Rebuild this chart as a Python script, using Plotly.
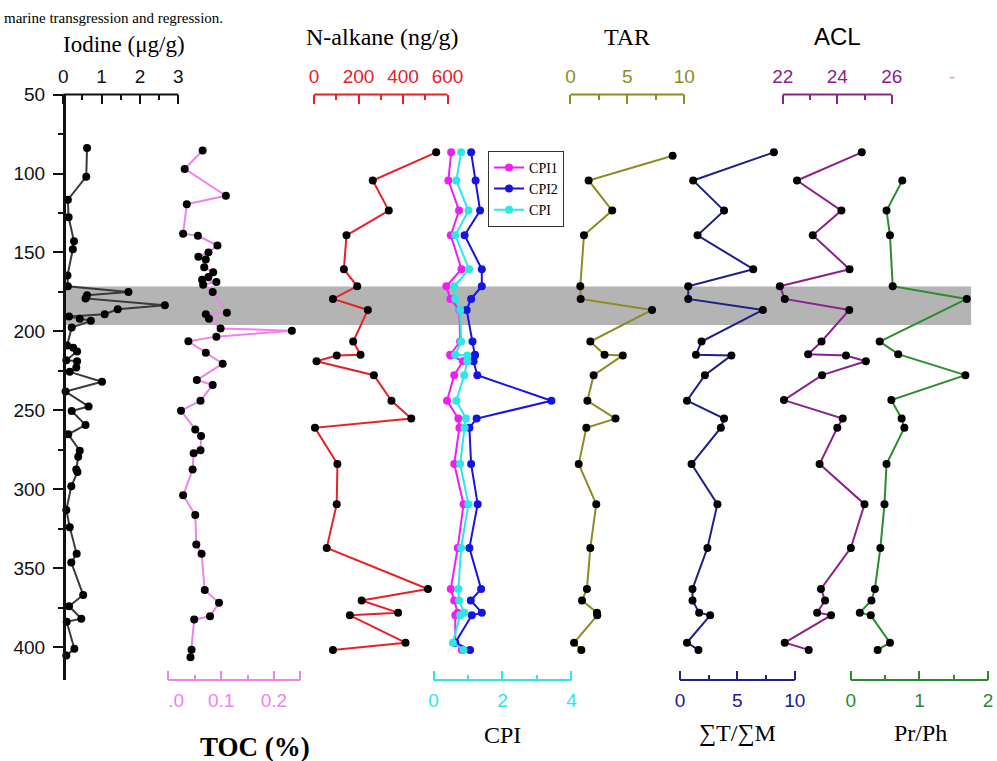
import plotly.graph_objects as go

W, H = 997, 761

# ---------------- data (depth in m, values per proxy) ----------------
iod_depth = [83.9, 102.0, 116.6, 127.7, 142.9, 147.9, 164.6, 171.4, 175.0, 177.1, 179.1, 183.5, 186.0,
             189.1, 190.6, 191.9, 193.3, 197.5, 208.9, 210.4, 212.7, 218.3, 218.9, 222.9, 225.6, 231.9,
             238.1, 247.5, 250.4, 259.2, 265.2, 275.6, 279.4, 287.5, 289.1, 298.1, 313.1, 324.1, 340.8,
             346.4, 366.9, 374.1, 381.9, 383.9, 401.0, 405.2]
iod_val = [0.62, 0.60, 0.12, 0.14, 0.28, 0.25, 0.11, 0.12, 1.70, 0.62, 0.58, 2.65, 1.42,
           1.08, 0.15, 0.43, 0.72, 0.22, 0.10, 0.26, 0.36, 0.08, 0.36, 0.34, 0.17, 1.01,
           0.06, 0.66, 0.22, 0.58, 0.13, 0.43, 0.39, 0.34, 0.37, 0.21, 0.08, 0.17, 0.35,
           0.21, 0.52, 0.15, 0.47, 0.09, 0.29, 0.08]

toc_depth = [85.4, 97.1, 114.1, 119.4, 138.1, 139.4, 145.6, 150.0, 152.7, 154.4, 159.4, 162.5, 165.6,
             167.3, 168.7, 170.4, 175.0, 188.1, 189.1, 191.9, 198.1, 199.5, 203.3, 206.2, 213.5, 220.4,
             230.8, 233.9, 243.9, 250.2, 262.1, 266.2, 275.2, 277.1, 287.5, 303.8, 316.3, 335.0, 340.8,
             363.8, 371.9, 380.4, 382.5, 401.6, 406.4]
toc_val = [0.065, 0.031, 0.109, 0.035, 0.028, 0.056, 0.093, 0.076, 0.057, 0.071, 0.068, 0.085, 0.076,
           0.064, 0.091, 0.066, 0.084, 0.111, 0.071, 0.077, 0.099, 0.234, 0.091, 0.038, 0.071, 0.103,
           0.054, 0.084, 0.061, 0.024, 0.051, 0.062, 0.061, 0.048, 0.046, 0.028, 0.051, 0.053, 0.063,
           0.069, 0.096, 0.079, 0.049, 0.044, 0.042]

bio_depth = [86.6, 104.4, 123.5, 139.1, 160.6, 171.4, 179.4, 186.4, 206.4, 214.8, 215.2, 218.9, 227.7,
             243.9, 255.2, 261.0, 284.0, 309.4, 337.1, 363.1, 370.4, 378.1, 379.8, 397.1, 401.7]
nalkane = [549, 264, 336, 146, 134, 194, 85, 242, 176, 209, 102, 11, 269,
           348, 437, 4, 105, 102, 57, 512, 214, 378, 161, 411, 85]
cpi1 = [0.51, 0.43, 0.74, 0.50, 0.81, 0.37, 0.49, 0.75, 0.77, 0.48, 0.50, 0.85, 0.60,
        0.39, 0.72, 0.75, 0.60, 0.87, 0.70, 0.50, 0.60, 0.70, 0.63, 0.63, 0.82]
cpi2 = [1.09, 1.22, 1.35, 0.90, 1.40, 1.40, 1.09, 0.96, 1.13, 1.20, 1.20, 1.16, 1.27,
        3.42, 1.25, 1.04, 1.09, 1.28, 1.04, 1.38, 1.08, 1.40, 1.11, 0.63, 1.06]
cpi = [0.80, 0.66, 1.01, 0.63, 1.03, 0.60, 0.63, 0.77, 0.80, 0.63, 0.98, 0.98, 0.89,
       0.66, 0.94, 0.90, 0.77, 1.01, 0.80, 0.72, 0.74, 0.89, 0.77, 0.56, 0.87]

tar_depth = [88.7, 104.4, 123.5, 139.1, 171.4, 179.4, 186.4, 206.4, 214.8, 215.2, 227.7, 243.9,
             255.2, 261.0, 284.0, 309.4, 337.1, 363.1, 370.4, 378.1, 379.8, 397.1, 401.7]
tar = [8.98, 1.60, 3.67, 1.19, 0.87, 0.90, 7.17, 1.75, 3.00, 4.60, 2.04, 1.49,
       3.96, 1.40, 0.73, 2.27, 1.75, 1.45, 1.02, 2.33, 2.36, 0.32, 0.96]

tm_depth = [86.6, 104.4, 123.5, 139.1, 160.6, 171.4, 179.4, 186.4, 206.4, 214.8, 215.2, 227.7,
            243.9, 255.2, 261.0, 284.0, 309.4, 337.1, 363.1, 370.4, 378.1, 379.8, 397.1, 401.7]
tm = [8.18, 1.15, 3.84, 1.53, 6.38, 0.72, 0.72, 7.22, 1.88, 1.39, 4.48, 2.17,
      0.61, 3.84, 3.56, 1.01, 3.26, 2.39, 1.09, 1.09, 1.67, 2.63, 0.61, 1.61]

acl_depth = [86.6, 104.4, 123.5, 139.1, 160.6, 171.4, 179.4, 186.4, 206.4, 214.4, 215.2, 218.9, 227.7,
             243.5, 255.2, 261.0, 284.0, 309.4, 337.1, 363.1, 370.4, 378.1, 379.8, 397.1, 401.7]
acl = [24.90, 22.52, 24.15, 23.10, 24.45, 21.89, 22.07, 24.44, 23.42, 22.93, 24.32, 25.05, 23.44,
       22.04, 24.20, 24.00, 23.35, 25.00, 24.50, 23.40, 23.55, 23.26, 23.77, 22.07, 22.95]

prph_depth = [104.4, 123.5, 139.1, 171.4, 179.4, 206.4, 214.4, 227.7, 243.5, 255.2, 261.0, 284.0,
              309.4, 337.1, 363.1, 370.4, 378.1, 379.8, 397.1, 401.7]
prph = [0.75, 0.52, 0.57, 0.61, 1.69, 0.42, 0.69, 1.67, 0.59, 0.74, 0.78, 0.52,
        0.49, 0.43, 0.35, 0.30, 0.13, 0.29, 0.57, 0.39]

band = [171.5, 196.0]
depth_ticks = [50, 100, 150, 200, 250, 300, 350, 400]

# ---------------- layout helpers ----------------
SERIF = "Liberation Serif, Times New Roman, serif"
SANS = "Liberation Sans, Arial, sans-serif"

Y_TOP, Y_BOT = 85.7, 679.0
y_dom = [1 - Y_BOT / H, 1 - Y_TOP / H]
y_range = [50 + (Y_BOT - Y_TOP) / 1.6, 50]


def xdom(a0, a1, p0, p1, padl=14, padr=14):
    k = (p1 - p0) / (a1 - a0)
    q0 = max(0.0, p0 - padl)
    q1 = min(W, p1 + padr)
    return [q0 / W, q1 / W], [a0 - (p0 - q0) / k, a1 + (q1 - p1) / k]


# name, a0, a1, p0, p1, side, color, tickvals, ticktext, minor
axes = [
    ("x", 0, 3, 61.5, 177, "top", "#111111", [0, 1, 2, 3], ["0", "1", "2", "3"], [0.5, 1.5, 2.5]),
    ("x2", 0, 0.25, 167, 299.5, "bottom", "#ee82ee", [0, 0.1, 0.2, 0.25],
     ["\u00a0\u00a0\u00a0.0", "0.1", "0.2", ""], [0.05, 0.15]),
    ("x3", 0, 600, 313.3, 447.3, "top", "#e8202a", [0, 200, 400, 600], ["0", "200", "400", "600"], [100, 300, 500]),
    ("x4", 0, 4, 433.3, 571.7, "bottom", "#2de6e6", [0, 2, 4], ["0", "2", "4"], [1, 3]),
    ("x5", 0, 10, 570.7, 685, "top", "#8c8c23", [0, 5, 10], ["0", "5", "10"], [2.5, 7.5]),
    ("x6", 0, 10, 680.7, 796, "bottom", "#20208a", [0, 5, 10], ["0", "5", "10"], [2.5, 7.5]),
    ("x7", 22, 26, 784, 893.3, "top", "#8b228b", [22, 24, 26], ["22", "24", "26"], [23, 25]),
    ("x8", 0, 2, 852.3, 990, "bottom", "#2a8c2a", [0, 1, 2], ["0", "1", "2"], [0.5, 1.5]),
]

fig = go.Figure()

layout = dict(
    width=W, height=H, margin=dict(l=0, r=0, t=0, b=0),
    paper_bgcolor="white", plot_bgcolor="rgba(0,0,0,0)",
    showlegend=True,
)

shapes = []
for name, a0, a1, p0, p1, side, color, tv, tt, mv in axes:
    dom, rng = xdom(a0, a1, p0, p1)
    key = "xaxis" if name == "x" else "xaxis" + name[1:]
    layout[key] = dict(
        domain=dom, range=rng, anchor="y", side=side, showgrid=False, zeroline=False,
        showline=False, tickmode="array", tickvals=tv, ticktext=tt,
        ticks="inside", ticklen=9, tickwidth=1.8, tickcolor=color,
        tickfont=dict(family=SANS, size=19, color=color),
        ticklabelstandoff=7,
        minor=dict(tickmode="array", tickvals=mv, ticks="inside", ticklen=5, tickwidth=1.8,
                   tickcolor=color, showgrid=False),
    )
    ypos = y_dom[1] if side == "top" else y_dom[0]
    shapes.append(dict(type="line", xref=name, yref="paper", x0=a0, x1=a1, y0=ypos, y1=ypos,
                       line=dict(color=color, width=2), layer="above"))

layout["yaxis"] = dict(
    domain=y_dom, range=y_range, anchor="free", position=62 / W, showgrid=False, zeroline=False,
    showline=True, linecolor="#111111", linewidth=2.5,
    tickmode="array", tickvals=depth_ticks, ticks="outside", ticklen=10, tickwidth=1.8,
    tickcolor="#111111", tickfont=dict(family=SANS, size=19, color="#111111"),
    ticklabelstandoff=4,
    minor=dict(tickmode="array", tickvals=[75, 125, 175, 225, 275, 325, 375], ticks="outside",
               ticklen=5, tickwidth=1.8, tickcolor="#111111", showgrid=False),
)

# grey band (transgression interval)
shapes.insert(0, dict(type="rect", xref="paper", yref="y", x0=62 / W, x1=973 / W,
                      y0=band[0], y1=band[1], fillcolor="#b4b4b4", line=dict(width=0),
                      layer="below"))
layout["shapes"] = shapes

MK = dict(color="black", size=8)


def add(x, y, xa, color, name=None, legend=False, marker=None):
    fig.add_trace(go.Scatter(
        x=x, y=y, xaxis=xa, yaxis="y", mode="lines+markers", name=name,
        showlegend=legend, cliponaxis=False,
        line=dict(color=color, width=2),
        marker=marker if marker else MK,
    ))


add(iod_val, iod_depth, "x", "#3a3a3a")
add(toc_val, toc_depth, "x2", "#ee82ee")
add(nalkane, bio_depth, "x3", "#e8202a")
add(cpi1, bio_depth, "x4", "#f01ef0", "CPI1", True, dict(color="#f01ef0", size=8))
add(cpi2, bio_depth, "x4", "#1414e6", "CPI2", True, dict(color="#1414e6", size=8))
add(cpi, bio_depth, "x4", "#2de6e6", "CPI", True, dict(color="#2de6e6", size=8))
add(tar, tar_depth, "x5", "#8c8c23")
add(tm, tm_depth, "x6", "#20208a")
add(acl, acl_depth, "x7", "#8b228b")
add(prph, prph_depth, "x8", "#2a8c2a")

layout["legend"] = dict(
    x=488 / W, y=1 - 142.7 / H, xanchor="left", yanchor="top",
    bgcolor="white", bordercolor="#333333", borderwidth=1,
    font=dict(family=SERIF, size=14, color="black"),
    tracegroupgap=0, itemwidth=30,
)


def ann(text, xpx, ypx, size=24, family=SERIF, color="black", bold=False, anchor="center",
        yanchor="middle"):
    if bold:
        text = "<b>" + text + "</b>"
    return dict(text=text, x=xpx / W, y=1 - ypx / H, xref="paper", yref="paper",
                xanchor=anchor, yanchor=yanchor, showarrow=False,
                font=dict(family=family, size=size, color=color))


layout["annotations"] = [
    ann("marine transgression and regression.", 0, -2, size=15, anchor="left", yanchor="top"),
    ann("Iodine (μg/g)", 122, 35, size=23),
    ann("N-alkane (ng/g)", 382, 27),
    ann("TAR", 628, 27),
    ann("ACL", 839, 27, family=SANS),
    ann("-", 954, 67, size=19, family=SANS, color="#f0a050"),
    ann("TOC (%)", 254, 747, size=27, bold=True),
    ann("CPI", 503, 735),
    ann("∑T/∑M", 738, 733),
    ann("Pr/Ph", 922, 733),
]

fig.update_layout(**layout)
fig.write_html("out.html")
